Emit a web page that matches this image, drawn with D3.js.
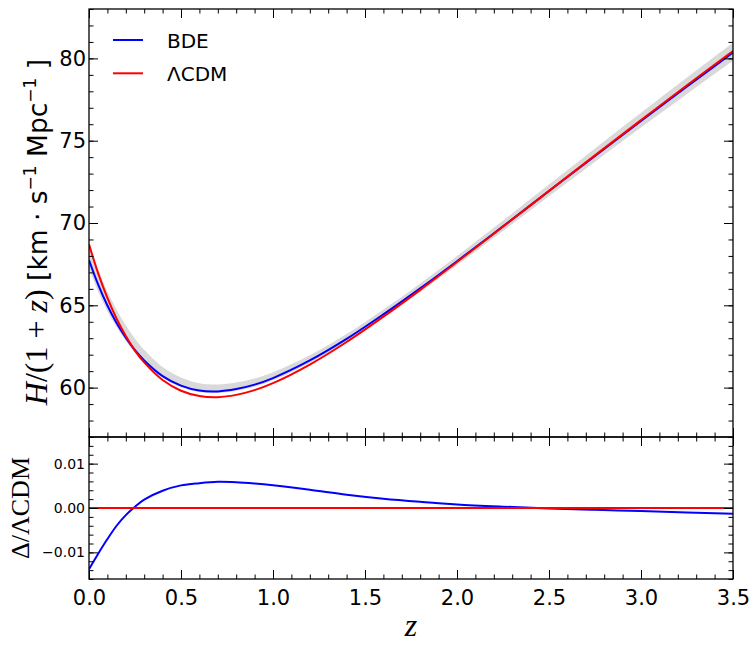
<!DOCTYPE html>
<html>
<head>
<meta charset="utf-8">
<script src="https://cdn.jsdelivr.net/npm/d3@7/dist/d3.min.js"></script>
<style>
  body { margin: 0; background: #fff; }
</style>
</head>
<body>
<svg id="chart" width="752" height="645" font-family="DejaVu Sans"></svg>
<script>
// redshift grid
var zs = [0, 0.05, 0.1, 0.15, 0.2, 0.25, 0.3, 0.4, 0.5, 0.6, 0.7, 0.8, 0.9, 1.0, 1.2, 1.4, 1.6, 1.8, 2.0, 2.25, 2.5, 2.75, 3.0, 3.25, 3.5];

// H/(1+z) for the two models
var lcdm = [68.70, 66.94, 65.45, 64.19, 63.14, 62.25, 61.53, 60.46, 59.81, 59.49, 59.42, 59.56, 59.85, 60.27, 61.40, 62.77, 64.31, 65.94, 67.63, 69.78, 71.95, 74.11, 76.25, 78.37, 80.45];
var bde = [67.75, 66.25, 64.99, 63.93, 63.04, 62.27, 61.65, 60.70, 60.12, 59.82, 59.77, 59.91, 60.18, 60.58, 61.65, 62.96, 64.45, 66.03, 67.68, 69.80, 71.94, 74.08, 76.20, 78.29, 80.35];

// grey confidence band around BDE
var bandLow = [67.25, 65.83, 64.64, 63.66, 62.84, 62.10, 61.50, 60.60, 60.02, 59.72, 59.67, 59.81, 60.06, 60.45, 61.50, 62.78, 64.25, 65.81, 67.43, 69.52, 71.62, 73.72, 75.80, 77.84, 79.85];
var bandHigh = [68.65, 67.13, 65.84, 64.73, 63.79, 62.97, 62.30, 61.25, 60.62, 60.27, 60.19, 60.31, 60.56, 60.94, 61.97, 63.26, 64.75, 66.33, 68.00, 70.15, 72.34, 74.53, 76.70, 78.84, 80.95];

// relative difference BDE vs LCDM (lower panel)
var delta = [-0.0138, -0.0103, -0.0070, -0.0040, -0.0016, 0.0003, 0.0019, 0.0039, 0.0051, 0.0056, 0.0059, 0.0058, 0.0055, 0.0051, 0.0041, 0.0030, 0.0021, 0.0014, 0.0008, 0.0003, -0.0001, -0.0004, -0.0007, -0.0010, -0.0013];

var xTicks = [0, 0.5, 1.0, 1.5, 2.0, 2.5, 3.0, 3.5];
var yTicksTop = [60, 65, 70, 75, 80];
var yTicksBot = [-0.01, 0, 0.01];

var pLeft = 89, pRight = 733, pTop = 9, pMid = 437, pBottom = 579;

var svg = d3.select("#chart");

var x = d3.scaleLinear().domain([0, 3.5]).range([pLeft, pRight]);
var yTop = d3.scaleLinear().domain([57, 83]).range([pMid, pTop]);
var yBot = d3.scaleLinear().domain([-0.016, 0.016]).range([pBottom, pMid]);

var minorX = d3.range(0, 36).map(function(i) { return i / 10; });
var minorTop = d3.range(57, 84);
var minorBot = d3.range(-8, 9).map(function(i) { return i * 0.002; });

// clip so the band does not spill over the frame
svg.append("clipPath").attr("id", "clipTop")
  .append("rect").attr("x", pLeft).attr("y", pTop).attr("width", pRight - pLeft).attr("height", pMid - pTop);
svg.append("clipPath").attr("id", "clipBot")
  .append("rect").attr("x", pLeft).attr("y", pMid).attr("width", pRight - pLeft).attr("height", pBottom - pMid);

var rows = zs.map(function(z, i) {
  return { z: z, lcdm: lcdm[i], bde: bde[i], lo: bandLow[i], hi: bandHigh[i], d: delta[i] };
});

var curve = d3.curveCatmullRom;

var gTop = svg.append("g").attr("clip-path", "url(#clipTop)");

gTop.append("path")
  .datum(rows)
  .attr("fill", "#d9d9d9")
  .attr("d", d3.area().curve(curve)
    .x(function(d) { return x(d.z); })
    .y0(function(d) { return yTop(d.lo); })
    .y1(function(d) { return yTop(d.hi); }));

gTop.append("path")
  .datum(rows)
  .attr("fill", "none").attr("stroke", "#0000ff").attr("stroke-width", 2)
  .attr("d", d3.line().curve(curve).x(function(d) { return x(d.z); }).y(function(d) { return yTop(d.bde); }));

gTop.append("path")
  .datum(rows)
  .attr("fill", "none").attr("stroke", "#ff0000").attr("stroke-width", 2)
  .attr("d", d3.line().curve(curve).x(function(d) { return x(d.z); }).y(function(d) { return yTop(d.lcdm); }));

var gBot = svg.append("g").attr("clip-path", "url(#clipBot)");

gBot.append("path")
  .datum(rows)
  .attr("fill", "none").attr("stroke", "#0000ff").attr("stroke-width", 2)
  .attr("d", d3.line().curve(curve).x(function(d) { return x(d.z); }).y(function(d) { return yBot(d.d); }));

gBot.append("line")
  .attr("x1", pLeft).attr("x2", pRight)
  .attr("y1", yBot(0)).attr("y2", yBot(0))
  .attr("stroke", "#ff0000").attr("stroke-width", 2);

// ticks, all pointing inward
function ticks(axis, transform, values, size, labels, pad, fmt, fontSize) {
  var a = axis.tickValues(values).tickSize(size).tickPadding(pad);
  a.tickFormat(labels ? fmt : "");
  var g = svg.append("g").attr("transform", transform).call(a);
  g.select(".domain").remove();
  g.attr("font-family", "DejaVu Sans").attr("font-size", fontSize);
  g.selectAll(".tick line").attr("stroke", "#000").attr("stroke-width", 1);
  g.selectAll("text").attr("fill", "#000");
  return g;
}

var f1 = d3.format(".1f"), f0 = d3.format("d"), f2 = d3.format(".2f");

// top panel
ticks(d3.axisBottom(x), "translate(0," + pMid + ")", minorX, -4.5, false, 0, null, 10);
ticks(d3.axisBottom(x), "translate(0," + pMid + ")", xTicks, -9, false, 0, null, 10);
ticks(d3.axisTop(x), "translate(0," + pTop + ")", minorX, -4.5, false, 0, null, 10);
ticks(d3.axisTop(x), "translate(0," + pTop + ")", xTicks, -9, false, 0, null, 10);
ticks(d3.axisLeft(yTop), "translate(" + pLeft + ",0)", minorTop, -4.5, false, 0, null, 10);
ticks(d3.axisLeft(yTop), "translate(" + pLeft + ",0)", yTicksTop, -9, true, 3, f0, 21);
ticks(d3.axisRight(yTop), "translate(" + pRight + ",0)", minorTop, -4.5, false, 0, null, 10);
ticks(d3.axisRight(yTop), "translate(" + pRight + ",0)", yTicksTop, -9, false, 0, null, 10);

// bottom panel
ticks(d3.axisTop(x), "translate(0," + pMid + ")", minorX, -4.5, false, 0, null, 10);
ticks(d3.axisTop(x), "translate(0," + pMid + ")", xTicks, -9, false, 0, null, 10);
ticks(d3.axisBottom(x), "translate(0," + pBottom + ")", minorX, -4.5, false, 0, null, 10);
ticks(d3.axisBottom(x), "translate(0," + pBottom + ")", xTicks, -9, true, 11, f1, 21);
ticks(d3.axisLeft(yBot), "translate(" + pLeft + ",0)", minorBot, -4.5, false, 0, null, 10);
ticks(d3.axisLeft(yBot), "translate(" + pLeft + ",0)", yTicksBot, -9, true, 4, f2, 14);
ticks(d3.axisRight(yBot), "translate(" + pRight + ",0)", minorBot, -4.5, false, 0, null, 10);
ticks(d3.axisRight(yBot), "translate(" + pRight + ",0)", yTicksBot, -9, false, 0, null, 10);

// frames
[[pTop, pMid], [pMid, pBottom]].forEach(function(p) {
  svg.append("rect")
    .attr("x", pLeft).attr("y", p[0]).attr("width", pRight - pLeft).attr("height", p[1] - p[0])
    .attr("fill", "none").attr("stroke", "#000").attr("stroke-width", 1.3);
});

// legend
var legend = [["BDE", "#0000ff"], ["\u039BCDM", "#ff0000"]];
legend.forEach(function(l, i) {
  var ly = 40 + i * 33.3;
  svg.append("line").attr("x1", 113).attr("x2", 143).attr("y1", ly).attr("y2", ly)
    .attr("stroke", l[1]).attr("stroke-width", 2);
  svg.append("text").attr("x", 167).attr("y", ly + 8).attr("font-size", 20).text(l[0]);
});

// axis labels
var yl = svg.append("text")
  .attr("transform", "translate(47,232) rotate(-90)")
  .attr("text-anchor", "middle")
  .attr("font-size", 26.5);
yl.append("tspan").attr("font-family", "Liberation Serif").attr("font-size", 32).attr("font-style", "italic").text("H");
yl.append("tspan").attr("font-family", "Liberation Serif").attr("font-size", 32).text("/(1 + ");
yl.append("tspan").attr("font-family", "Liberation Serif").attr("font-size", 32).attr("font-style", "italic").text("z");
yl.append("tspan").attr("font-family", "Liberation Serif").attr("font-size", 32).text(")");
yl.append("tspan").text(" [km \u00B7 s");
yl.append("tspan").attr("font-size", 17).attr("dy", -11).text("\u22121");
yl.append("tspan").attr("dy", 11).text(" Mpc");
yl.append("tspan").attr("font-size", 17).attr("dy", -11).text("\u22121");
yl.append("tspan").attr("dy", 11).text(" ]");

svg.append("text")
  .attr("transform", "translate(29,508) rotate(-90)")
  .attr("text-anchor", "middle")
  .attr("font-family", "Liberation Serif")
  .attr("font-size", 26)
  .text("\u0394/\u039BCDM");

svg.append("text")
  .attr("x", (pLeft + pRight) / 2).attr("y", 636)
  .attr("text-anchor", "middle")
  .attr("font-family", "Liberation Serif")
  .attr("font-style", "italic")
  .attr("font-size", 32)
  .text("z");
</script>
</body>
</html>
